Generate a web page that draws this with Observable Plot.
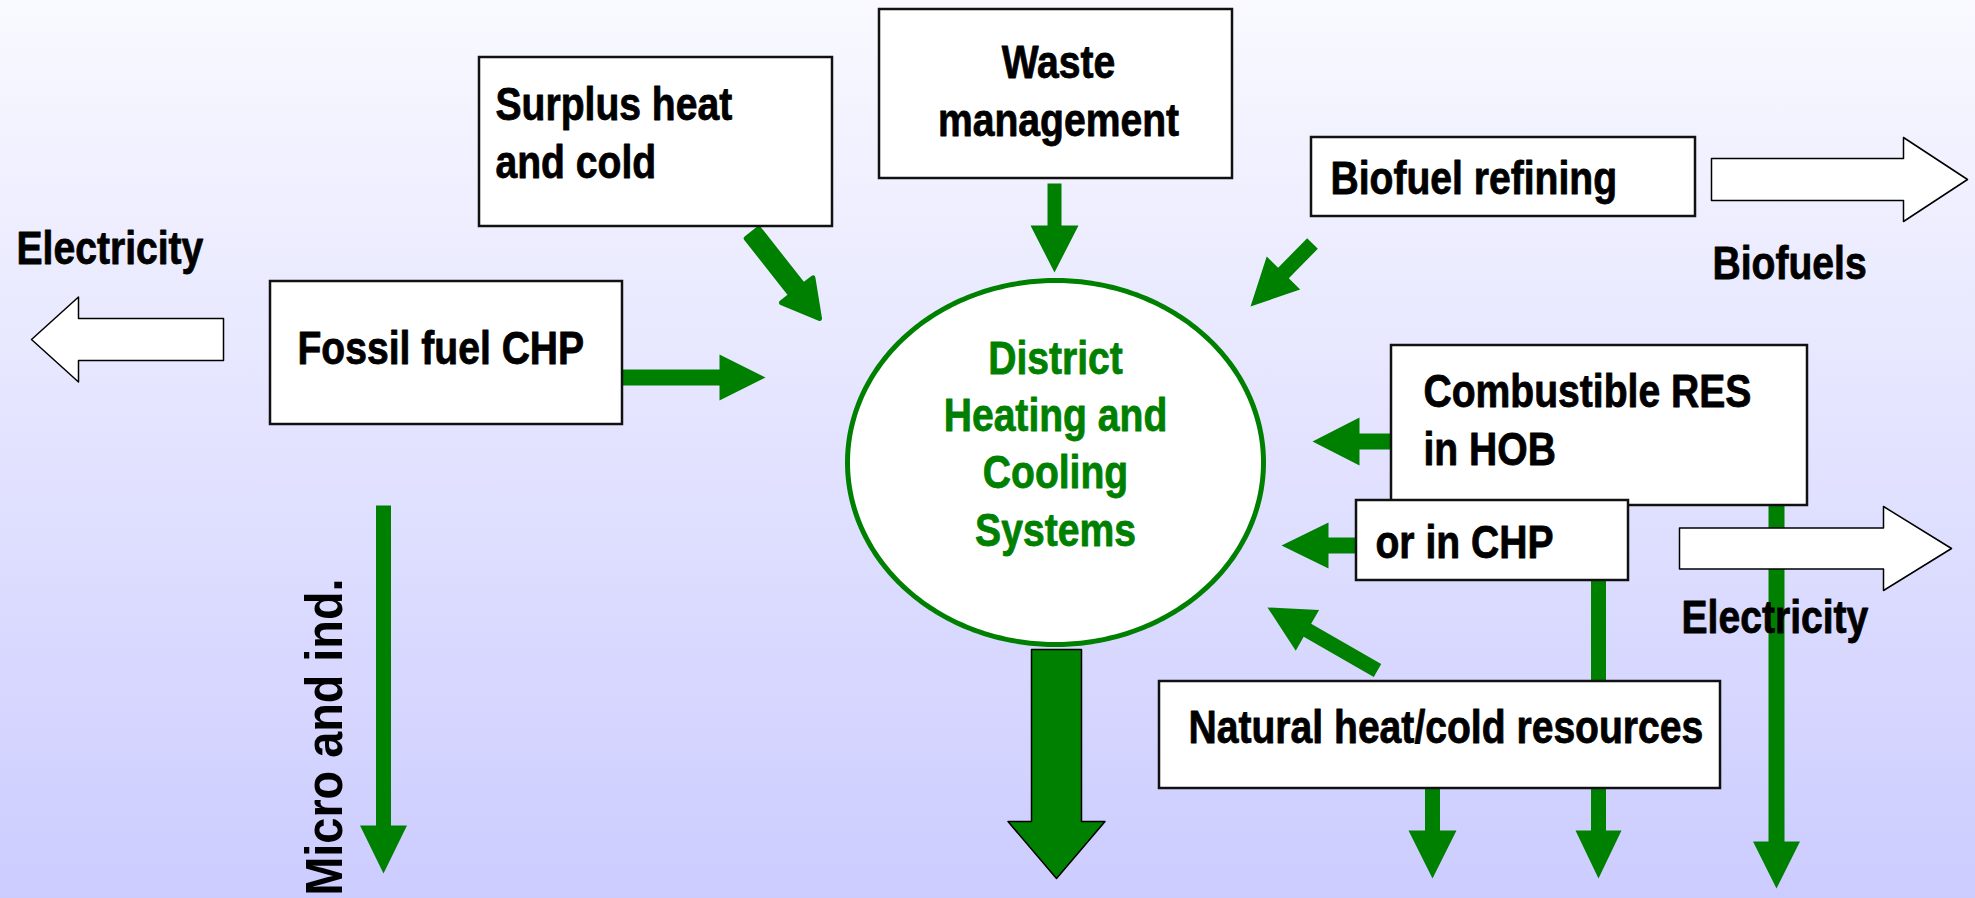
<!DOCTYPE html>
<html>
<head>
<meta charset="utf-8">
<script src="https://cdn.jsdelivr.net/npm/d3@7"></script>
<script src="https://cdn.jsdelivr.net/npm/@observablehq/plot@0.6"></script>
<style>
  html, body { margin: 0; padding: 0; background: linear-gradient(to bottom, #f9f9ff, #ccccff); overflow: hidden; }
  svg { display: block; }
</style>
</head>
<body>
<div id="chart"></div>
<script>
// ---- Boxes (diagram coordinates, y grows downward) ----
const boxLabels = ["Surplus heat\nand cold", "Waste\nmanagement", "Biofuel refining", "Fossil fuel CHP", "Combustible RES\nin HOB", "or in CHP", "Natural heat/cold resources"];
const boxLeft   = [479, 879, 1311, 270, 1391, 1356, 1159];
const boxRight  = [832, 1232, 1695, 622, 1807, 1628, 1720];
const boxTop    = [57, 9, 137, 281, 345, 500, 681];
const boxBottom = [226, 178, 216, 424, 505, 580, 788];
const boxTextX  = [495, 1058, 1330, 297, 1423, 1375, 1188];
const boxTextY  = [177, 135, 193, 363, 464, 557, 742];   // baseline of last line
const boxAnchor = ["start", "middle", "start", "start", "start", "start", "start"];

// ---- Central node ----
const hubLabel = "District\nHeating and\nCooling\nSystems";
const hubX = 1055, hubY = 462, hubRx = 208, hubRy = 182;
const hubTextY = 545;

// ---- Green flows (tail -> tip) ----
const flowNames = ["waste", "surplus", "fossil", "biofuel", "combustible", "orchp", "natural", "output", "micro", "nat-down", "chp-down", "hob-down"];
const flowX0 = [1054, 752, 622, 1312, 1391, 1361, 1377, 1056, 383, 1432, 1598, 1776];
const flowY0 = [183, 233, 377, 243, 441, 545, 670, 649, 505, 788, 580, 505];
const flowX1 = [1054, 819, 765, 1250, 1312, 1281, 1267, 1056, 383, 1432, 1598, 1776];
const flowY1 = [272, 318, 377, 306, 441, 545, 607, 878, 873, 878, 878, 888];
const flowShaft = [14, 16, 16, 15, 16, 16, 15, 50, 15, 15, 15, 16];
const flowHead = [48, 40, 46, 47, 48, 46, 47, 97, 47, 48, 46, 47];
const flowHeadLen = [47, 36, 46, 47, 47, 47, 46, 57, 48, 48, 48, 47];
const flowRounded = ["surplus"];
const flowOutlined = ["output"];

// ---- White (exported) flows ----
const exportNames = ["Electricity", "Biofuels", "Electricity"];
const exportX0 = [223, 1711, 1679];
const exportY0 = [339, 179, 548];
const exportX1 = [31, 1967, 1951];
const exportY1 = [339, 179, 548];
const exportShaft = [42, 42, 41];
const exportHead = [85, 84, 84];
const exportHeadLen = [47, 64, 68];
const exportTextX = [16, 1712, 1681];
const exportTextY = [263, 278, 632];

// ---- Vertical label ----
const sideLabel = "Micro and ind.";
const sideX = 341, sideY = 578;

// ---------- geometry helpers ----------
function arrowOutline(id, x0, y0, x1, y1, shaft, head, headLen) {
  const dx = x1 - x0, dy = y1 - y0, L = Math.hypot(dx, dy);
  const ux = dx / L, uy = dy / L, px = -uy, py = ux;
  const bx = x1 - ux * headLen, by = y1 - uy * headLen;
  const s = shaft / 2, h = head / 2;
  return [
    [x0 + px * s, y0 + py * s], [bx + px * s, by + py * s], [bx + px * h, by + py * h],
    [x1, y1],
    [bx - px * h, by - py * h], [bx - px * s, by - py * s], [x0 - px * s, y0 - py * s]
  ].map(([x, y]) => ({id, x, y}));
}

const boxes = boxLabels.map((label, i) => ({label, x1: boxLeft[i], x2: boxRight[i], y1: boxTop[i], y2: boxBottom[i], tx: boxTextX[i], ty: boxTextY[i], anchor: boxAnchor[i]}));

const flowPts = kind => flowNames.flatMap((n, i) => {
  const rounded = flowRounded.includes(n), outlined = flowOutlined.includes(n);
  const k = rounded ? "rounded" : outlined ? "outlined" : "plain";
  return k === kind ? arrowOutline(n, flowX0[i], flowY0[i], flowX1[i], flowY1[i], flowShaft[i], flowHead[i], flowHeadLen[i]) : [];
});

const exportPts = exportNames.flatMap((n, i) => arrowOutline(n + i, exportX0[i], exportY0[i], exportX1[i], exportY1[i], exportShaft[i], exportHead[i], exportHeadLen[i]));
const exportLabels = exportNames.map((label, i) => ({label, x: exportTextX[i], y: exportTextY[i]}));

const hubPts = d3.range(0, 360, 1).map(a => ({x: hubX + hubRx * Math.cos(a * Math.PI / 180), y: hubY + hubRy * Math.sin(a * Math.PI / 180)}));

const GREEN = "#008000";
const FONT = "Liberation Sans, Arial, sans-serif";
const FS = 46;
const textStyle = {fontFamily: FONT, fontWeight: "bold", fontSize: FS, lineAnchor: "bottom", className: "narrow", strokeWidth: 0.8};

const chart = Plot.plot({
  width: 1975,
  height: 898,
  margin: 0,
  x: {domain: [0, 1975], range: [0, 1975], axis: null},
  y: {domain: [0, 898], range: [0, 898], axis: null},
  style: {background: "transparent", overflow: "visible"},
  marks: [
    // green flows
    Plot.line(flowPts("plain"), {x: "x", y: "y", z: "id", fill: GREEN, stroke: "none", curve: "linear-closed"}),
    Plot.line(flowPts("rounded"), {x: "x", y: "y", z: "id", fill: GREEN, stroke: GREEN, strokeWidth: 5, strokeLinejoin: "round", curve: "linear-closed"}),
    Plot.line(flowPts("outlined"), {x: "x", y: "y", z: "id", fill: GREEN, stroke: "#000", strokeWidth: 1.5, curve: "linear-closed"}),
    // boxes
    Plot.rect(boxes, {x1: "x1", x2: "x2", y1: "y1", y2: "y2", fill: "white", stroke: "#111", strokeWidth: 2.5}),
    // hub ellipse
    Plot.line(hubPts, {x: "x", y: "y", fill: "white", stroke: GREEN, strokeWidth: 5, curve: "linear-closed"}),
    // exported flows (hollow)
    Plot.line(exportPts, {x: "x", y: "y", z: "id", fill: "white", stroke: "#000", strokeWidth: 1.5, curve: "linear-closed"}),
    // texts
    Plot.text(boxes.filter(d => d.anchor === "start"), {x: "tx", y: "ty", text: "label", textAnchor: "start", lineHeight: 1.25, fill: "#000", stroke: "#000", ...textStyle}),
    Plot.text(boxes.filter(d => d.anchor === "middle"), {x: "tx", y: "ty", text: "label", textAnchor: "middle", lineHeight: 1.25, fill: "#000", stroke: "#000", ...textStyle}),
    Plot.text(exportLabels, {x: "x", y: "y", text: "label", textAnchor: "start", fill: "#000", stroke: "#000", ...textStyle}),
    Plot.text([hubLabel], {x: () => hubX, y: () => hubTextY, text: d => d, textAnchor: "middle", lineHeight: 1.24, fill: GREEN, stroke: GREEN, ...textStyle}),
    Plot.text([sideLabel], {x: () => sideX, y: () => sideY, text: d => d, rotate: -90, textAnchor: "end", lineAnchor: "bottom",
      fontFamily: FONT, fontWeight: "bold", fontSize: 52, fill: "#000", className: "side"})
  ]
});

// condense the label glyphs horizontally (the original uses a narrow bold face)
function squeeze(svg, cls, s) {
  const texts = new Set([
    ...svg.querySelectorAll(`g.${cls} text`),
    ...svg.querySelectorAll(`text.${cls}`),
    ...svg.querySelectorAll(`g[aria-label="${cls}"] text`)
  ]);
  texts.forEach(t => {
    const tr = t.getAttribute("transform") || "";
    t.setAttribute("transform", tr + ` scale(${s},1)`);
  });
}
squeeze(chart, "narrow", 0.85);
squeeze(chart, "side", 0.9);

document.getElementById("chart").appendChild(chart);
</script>
</body>
</html>
